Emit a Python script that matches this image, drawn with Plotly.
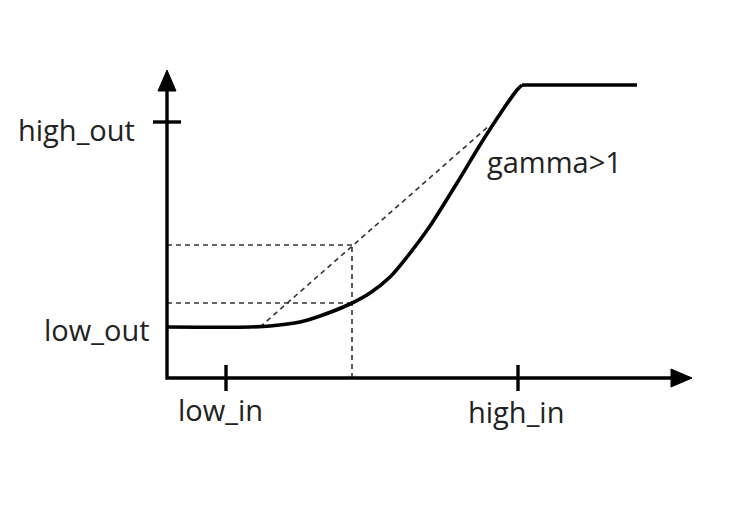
import plotly.graph_objects as go

# ---- data (chart units: origin at the axes crossing) ----
axis_x_len = 525
axis_y_len = 308

tick_x_labels = ["low_in", "high_in"]
tick_x_values = [59, 351]
tick_y_labels = ["low_out", "high_out"]
tick_y_values = [51, 256]

curve_x = [0, 83, 103, 133, 153, 183, 203, 223, 240, 263, 290, 313, 333, 350, 355]
curve_y = [51, 51, 52, 56, 62, 74, 85, 101, 121, 152, 195, 233, 264, 288, 293]
clip_x = [355, 470]
clip_y = [293, 293]

linear_x = [93, 323]
linear_y = [51, 253]

sample_in = 185
sample_out_linear = 133
sample_out_gamma = 75

curve_label = "gamma>1"
curve_label_pos = [318, 217]

# ---- figure ----
fig = go.Figure()
ink = "#000000"
txt = "#222222"
dash_col = "#333333"
dash_line = dict(color=dash_col, width=1.6, dash="5px,4px")

# dashed guide lines
for yy in [sample_out_linear, sample_out_gamma]:
    fig.add_trace(go.Scatter(x=[0, sample_in], y=[yy, yy], mode="lines",
                             line=dash_line, hoverinfo="skip"))
fig.add_trace(go.Scatter(x=[sample_in, sample_in], y=[0, sample_out_linear], mode="lines",
                         line=dash_line, hoverinfo="skip"))
fig.add_trace(go.Scatter(x=linear_x, y=linear_y, mode="lines",
                         line=dash_line, hoverinfo="skip"))

# gamma curve
fig.add_trace(go.Scatter(x=curve_x, y=curve_y, mode="lines",
                         line=dict(color=ink, width=3.6, shape="spline", smoothing=0.8),
                         hoverinfo="skip"))
fig.add_trace(go.Scatter(x=clip_x, y=clip_y, mode="lines",
                         line=dict(color=ink, width=3.6), hoverinfo="skip"))

# axes lines
fig.add_trace(go.Scatter(x=[0, 0, axis_x_len - 18], y=[axis_y_len - 18, 0, 0], mode="lines",
                         line=dict(color=ink, width=3.4), hoverinfo="skip"))
# arrow heads
fig.add_trace(go.Scatter(x=[-9, 0, 9, -9], y=[axis_y_len - 21, axis_y_len, axis_y_len - 21, axis_y_len - 21],
                         mode="lines", fill="toself", fillcolor=ink, line=dict(color=ink, width=1),
                         hoverinfo="skip"))
fig.add_trace(go.Scatter(x=[axis_x_len - 21, axis_x_len, axis_x_len - 21, axis_x_len - 21], y=[-9, 0, 9, -9],
                         mode="lines", fill="toself", fillcolor=ink, line=dict(color=ink, width=1),
                         hoverinfo="skip"))

# ticks
for xv in tick_x_values:
    fig.add_trace(go.Scatter(x=[xv, xv], y=[-13, 13], mode="lines",
                             line=dict(color=ink, width=3.4), hoverinfo="skip"))
fig.add_trace(go.Scatter(x=[-14, 14], y=[tick_y_values[1], tick_y_values[1]], mode="lines",
                         line=dict(color=ink, width=3.4), hoverinfo="skip"))

font = dict(family="Open Sans", size=29, color=txt)
# x tick labels
fig.add_annotation(x=tick_x_values[0] - 6, y=-10, text=tick_x_labels[0], showarrow=False,
                   xanchor="center", yanchor="top", font=font)
fig.add_annotation(x=tick_x_values[1] - 2, y=-12, text=tick_x_labels[1], showarrow=False,
                   xanchor="center", yanchor="top", font=font)
# y tick labels
fig.add_annotation(x=-15, y=tick_y_values[0] - 2, text=tick_y_labels[0], showarrow=False,
                   xanchor="right", yanchor="middle", font=font)
fig.add_annotation(x=-30, y=tick_y_values[1] - 7, text=tick_y_labels[1], showarrow=False,
                   xanchor="right", yanchor="middle", font=font)
# curve label
fig.add_annotation(x=curve_label_pos[0], y=curve_label_pos[1], text=curve_label, showarrow=False,
                   xanchor="left", yanchor="middle", font=font)

# page body has an 8px margin: figure is 734x496 placed at (8,8)
fig.update_layout(
    width=734, height=496,
    margin=dict(l=0, r=0, t=0, b=0),
    paper_bgcolor="white", plot_bgcolor="white",
    showlegend=False,
    xaxis=dict(range=[-159, 575], visible=False, fixedrange=True),
    yaxis=dict(range=[-126, 370], visible=False, fixedrange=True),
)

fig.write_html("out.html")
